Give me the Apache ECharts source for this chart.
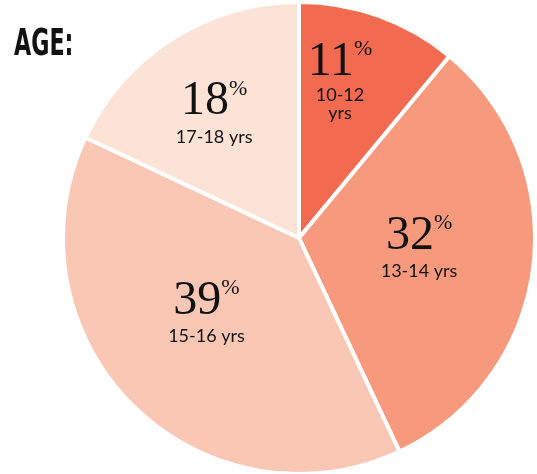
<!DOCTYPE html>
<html>
<head>
<meta charset="utf-8">
<script src="https://cdn.jsdelivr.net/npm/echarts@6/dist/echarts.min.js"></script>
<style>
  html, body { margin: 0; padding: 0; background: #fff; }
  #chart { width: 537px; height: 474px; }
</style>
</head>
<body>
<div id="chart"></div>
<script>
// age groups, clockwise from 12 o'clock
const ageGroups = ['10-12 yrs', '13-14 yrs', '15-16 yrs', '17-18 yrs'];
const shares = [11, 32, 39, 18];
const sliceColors = ['#f26a50', '#f7997c', '#fac7b5', '#fde2d6'];
// label nudges as padding [top, right, bottom, left]
const labelPads = [[0, 0, 88, 0], [0, 0, 12, 0], [0, 14, 22, 0], [0, 40, 46, 0]];

const chart = echarts.init(document.getElementById('chart'));

// 10-12 label is squeezed into a narrow slice, so break it
const labelName = (name) => name === '10-12 yrs' ? '10-12}\n{m|yrs' : name;

chart.setOption({
  animation: false,
  // condensed poster-style heading, squeezed horizontally
  graphic: [{
    type: 'text',
    x: 14,
    y: 27,
    scaleX: 0.6,
    style: {
      text: 'AGE:',
      fontFamily: 'DejaVu Sans',
      fontWeight: 'bold',
      fontSize: 37,
      fill: '#111'
    }
  }],
  series: [{
    type: 'pie',
    center: [299, 238],
    radius: [0, 236],
    startAngle: 90,
    clockwise: true,
    itemStyle: { borderColor: '#fff', borderWidth: 4 },
    emphasis: { disabled: true },
    labelLine: { show: false },
    label: {
      show: true,
      position: 'inside',
      color: '#111',
      formatter: (p) => '{v|' + p.value + '}{p|%}\n{' + (p.dataIndex === 0 ? 'm' : 'n') + '|' + labelName(p.name) + '}',
      rich: {
        v: { fontFamily: 'Liberation Serif', fontSize: 48, lineHeight: 48, color: '#111' },
        p: { fontFamily: 'Liberation Serif', fontSize: 22, lineHeight: 48, verticalAlign: 'top', color: '#111', padding: [0, 0, 18, 0] },
        n: { fontFamily: 'Lato', fontSize: 18, lineHeight: 22, color: '#111' },
        m: { fontFamily: 'Lato', fontSize: 18, lineHeight: 18, color: '#111' }
      }
    },
    data: ageGroups.map((g, i) => ({
      name: g,
      value: shares[i],
      itemStyle: { color: sliceColors[i] },
      label: { padding: labelPads[i] }
    }))
  }]
});
</script>
</body>
</html>
